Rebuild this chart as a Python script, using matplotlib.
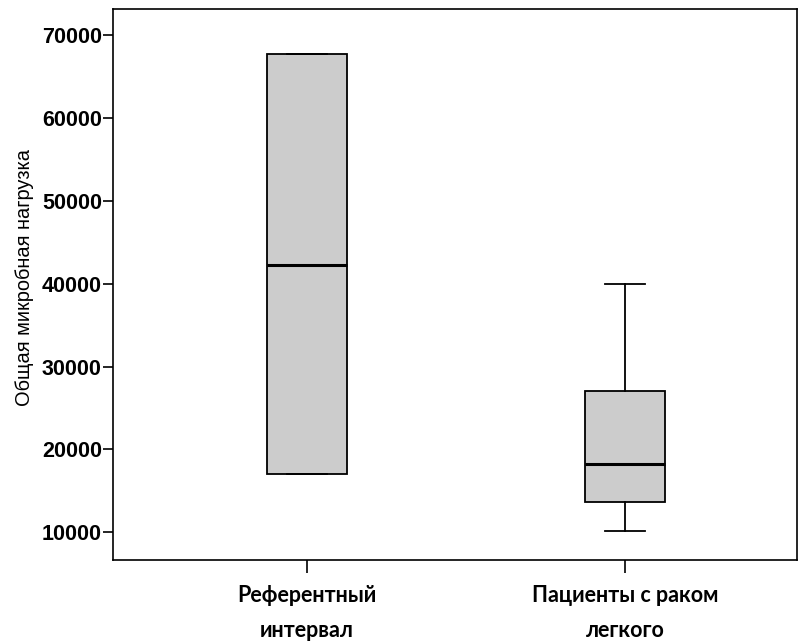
import matplotlib
matplotlib.use("Agg")
import matplotlib.pyplot as plt

# box statistics
groups = ["Референтный\nинтервал", "Пациенты с раком\nлегкого"]
whisker_low = [17000, 10200]
q1 = [17000, 13600]
median = [42300, 18300]
q3 = [67700, 27000]
whisker_high = [67700, 40000]

y_ticks = [10000, 20000, 30000, 40000, 50000, 60000, 70000]

stats = []
for i in range(len(groups)):
    stats.append({
        "whislo": whisker_low[i], "q1": q1[i], "med": median[i],
        "q3": q3[i], "whishi": whisker_high[i], "fliers": [],
    })

fig = plt.figure(figsize=(8.08, 6.41), dpi=100)
ax = fig.add_axes([113 / 808, 1 - 560 / 641, 684 / 808, 551 / 641])

ax.bxp(stats, positions=[1, 2], widths=0.25, patch_artist=True,
       showfliers=False,
       boxprops=dict(facecolor="#cccccc", edgecolor="black", linewidth=1.3),
       medianprops=dict(color="black", linewidth=2.2),
       whiskerprops=dict(color="black", linewidth=1.3),
       capprops=dict(color="black", linewidth=1.3),
       capwidths=0.125)

ax.set_xlim(0.39, 2.541)
ax.set_ylim(6650, 73170)
ax.set_yticks(y_ticks)
ax.set_yticklabels([str(v) for v in y_ticks],
                   fontfamily="Liberation Sans", fontweight="bold", fontsize=15.5)
ax.set_xticks([1, 2])
ax.set_xticklabels(groups, fontfamily="Lato", fontweight="bold", fontsize=15.5,
                   linespacing=1.85)

ax.tick_params(axis="y", length=7, width=1.2, pad=1)
ax.tick_params(axis="x", length=9, width=1.2, pad=9)
for s in ax.spines.values():
    s.set_linewidth(1.2)

ax.set_ylabel("Общая микробная нагрузка", fontfamily="Liberation Sans",
              fontsize=14.4)
ax.yaxis.set_label_coords(-0.1155, 0.513)

fig.savefig("out.png", dpi=100)
